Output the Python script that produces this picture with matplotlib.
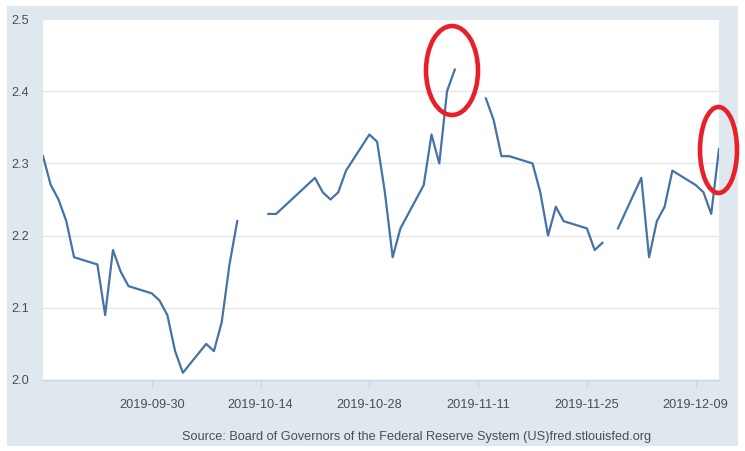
import numpy as np
import pandas as pd
import matplotlib
matplotlib.use("Agg")
import matplotlib.pyplot as plt
from matplotlib.patches import Ellipse, Rectangle

# 30-year treasury, daily (business days), nan = market closed
dates = pd.bdate_range("2019-09-16", "2019-12-12")
nan = np.nan
values = [
    2.31, 2.27, 2.25, 2.22, 2.17,
    2.16, 2.09, 2.18, 2.15, 2.13,
    2.12, 2.11, 2.09, 2.04, 2.01,
    2.05, 2.04, 2.08, 2.16, 2.22,
    nan, 2.23, 2.23, 2.24, 2.25,
    2.28, 2.26, 2.25, 2.26, 2.29,
    2.34, 2.33, 2.26, 2.17, 2.21,
    2.27, 2.34, 2.30, 2.40, 2.43,
    nan, 2.39, 2.36, 2.31, 2.31,
    2.30, 2.26, 2.20, 2.24, 2.22,
    2.21, 2.18, 2.19, nan, 2.21,
    2.28, 2.17, 2.22, 2.24, 2.29,
    2.27, 2.26, 2.23, 2.32,
]
x_ticks = ["2019-09-30", "2019-10-14", "2019-10-28", "2019-11-11", "2019-11-25", "2019-12-09"]
y_ticks = [2.0, 2.1, 2.2, 2.3, 2.4, 2.5]
source = "Source: Board of Governors of the Federal Reserve System (US)fred.stlouisfed.org"

W, H = 745, 451
font = ["Liberation Sans", "DejaVu Sans"]
fsize = 9.2
txt_color = "#4d4d4d"

fig = plt.figure(figsize=(W / 100, H / 100), dpi=100)
fig.patch.set_facecolor("white")

# light blue panel behind everything
fig.add_artist(Rectangle((7 / W, 5 / H), 731 / W, 440 / H, transform=fig.transFigure,
                         facecolor="#dfe7ef", edgecolor="none", zorder=0))

ax = fig.add_axes([43 / W, 1 - 380 / H, 676 / W, 361 / H])
ax.set_facecolor("white")
ax.plot(dates, values, color="#4572a7", lw=1.6, solid_joinstyle="round")

ax.set_xlim(dates[0], dates[-1])
ax.set_ylim(2.0, 2.5)
ax.set_yticks(y_ticks)
ax.set_yticklabels(["%.1f" % v for v in y_ticks], fontfamily=font, fontsize=fsize, color=txt_color)
ax.set_xticks(pd.to_datetime(x_ticks))
ax.set_xticklabels(x_ticks, fontfamily=font, fontsize=fsize, color=txt_color)
ax.tick_params(axis="y", length=0, pad=10)
ax.tick_params(axis="x", length=6, width=0.8, color="#ccd6eb", pad=8)

ax.grid(axis="y", color="#e6e6e6", lw=1)
ax.set_axisbelow(True)
for s in ["top", "right", "left"]:
    ax.spines[s].set_visible(False)
ax.spines["bottom"].set_color("#ccd6eb")
ax.spines["bottom"].set_linewidth(1)

fig.text(417 / W, 1 - 437 / H, source, ha="center", va="center",
         fontfamily=font, fontsize=fsize, color=txt_color)

# red circles
for cx, cy, w, h in [(452, 70.5, 52, 89), (718.5, 150, 37, 86)]:
    fig.add_artist(Ellipse((cx / W, 1 - cy / H), w / W, h / H, transform=fig.transFigure,
                           fill=False, edgecolor="#e8202a", lw=3.3, zorder=10))

fig.savefig("out.png", dpi=100)
